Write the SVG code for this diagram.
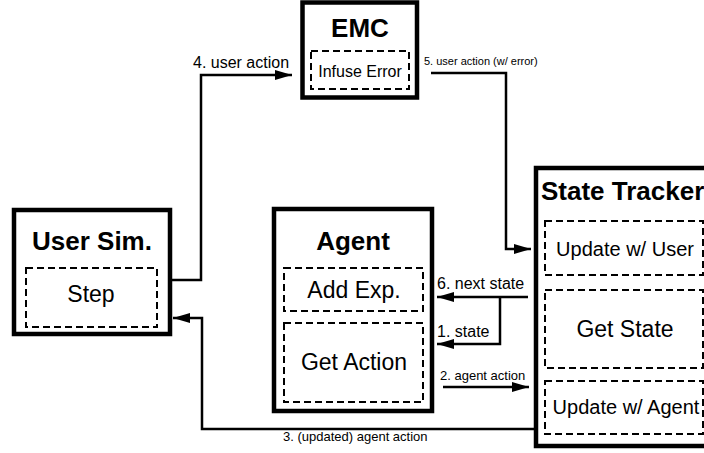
<svg xmlns="http://www.w3.org/2000/svg" width="704" height="453" viewBox="0 0 704 453">
<style>
.box{fill:#fff;stroke:#000;stroke-width:4.5}
.sub{fill:none;stroke:#000;stroke-width:2;stroke-dasharray:7,4}
.title{font-family:"Liberation Sans",Arial,sans-serif;font-weight:bold;font-size:26px;fill:#000}
.lbl{font-family:"Liberation Sans",Arial,sans-serif;font-size:23px;fill:#000}
.lbl20{font-family:"Liberation Sans",Arial,sans-serif;font-size:20px;fill:#000}
.lbl16{font-family:"Liberation Sans",Arial,sans-serif;font-size:16px;fill:#000}
.edge{fill:none;stroke:#000;stroke-width:2.5;marker-end:url(#ah)}
.line{fill:none;stroke:#000;stroke-width:2.5}
.el{font-family:"Liberation Sans",Arial,sans-serif;fill:#000}
</style>
<defs>
<marker id="ah" markerUnits="userSpaceOnUse" markerWidth="17" markerHeight="10" refX="17" refY="5" orient="auto">
<path d="M0,0 L17,5 L0,10 Z" fill="#000"/>
</marker>
</defs>
<rect width="704" height="453" fill="#fff"/>

<g id="connectors">
<polyline class="edge" points="170,280 201,280 201,75 292,75"/>
<text class="el" x="193" y="68" font-size="16">4. user action</text>
<polyline class="edge" points="431,73 506,73 506,249 531,249"/>
<text class="el" x="424" y="65" font-size="11">5. user action (w/ error)</text>
<polyline class="edge" points="528,297 437,297"/>
<polyline class="edge" points="500,297 500,344 437,344"/>
<text class="el" x="437" y="289" font-size="16">6. next state</text>
<text class="el" x="437" y="337" font-size="16">1. state</text>
<polyline class="edge" points="443,387 529,387"/>
<text class="el" x="440" y="380" font-size="13">2. agent action</text>
<polyline class="edge" points="534,429 202,429 202,318 173,318"/>
<text class="el" x="283" y="441" font-size="13">3. (updated) agent action</text>
</g>

<g id="user-sim">
<rect class="box" x="14" y="210" width="156" height="124"/>
<text class="title" x="92" y="250" text-anchor="middle">User Sim.</text>
<rect class="sub" x="26" y="268" width="131" height="59"/>
<text class="lbl" x="91" y="302" text-anchor="middle">Step</text>
</g>

<g id="emc">
<rect class="box" x="302.5" y="2.5" width="114.5" height="95"/>
<text class="title" x="360" y="37" text-anchor="middle">EMC</text>
<rect class="sub" x="311" y="51" width="98" height="38"/>
<text class="lbl16" x="360" y="77" text-anchor="middle">Infuse Error</text>
</g>

<g id="agent">
<rect class="box" x="274" y="209" width="158" height="202"/>
<text class="title" x="353" y="250" text-anchor="middle">Agent</text>
<rect class="sub" x="284" y="268" width="139" height="43"/>
<text class="lbl" x="354" y="298" text-anchor="middle">Add Exp.</text>
<rect class="sub" x="284" y="323" width="139" height="79"/>
<text class="lbl" x="354" y="370" text-anchor="middle">Get Action</text>
</g>

<g id="state-tracker">
<rect class="box" x="536" y="168" width="190" height="278"/>
<text class="title" x="541" y="200">State Tracker</text>
<rect class="sub" x="545" y="221" width="158" height="54"/>
<text class="lbl20" x="625" y="256" text-anchor="middle">Update w/ User</text>
<rect class="sub" x="545" y="290" width="158" height="78"/>
<text class="lbl" x="625" y="337" text-anchor="middle">Get State</text>
<rect class="sub" x="545" y="381" width="158" height="53"/>
<text class="lbl20" x="626" y="414" text-anchor="middle">Update w/ Agent</text>
</g>
</svg>
